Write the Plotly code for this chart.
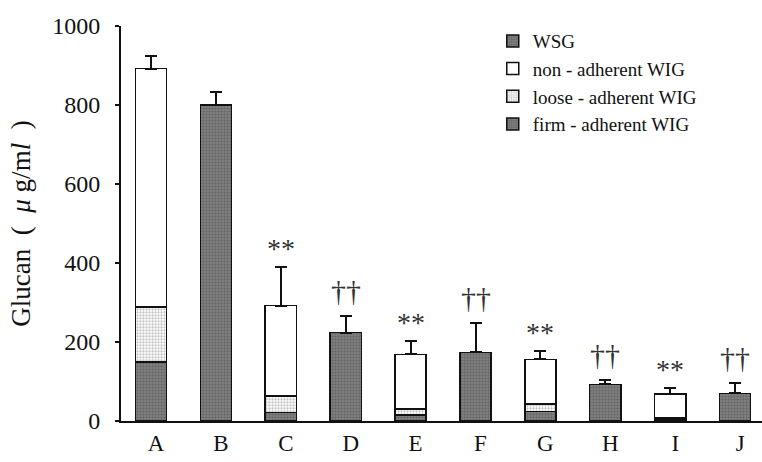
import plotly.graph_objects as go

categories = ["A", "B", "C", "D", "E", "F", "G", "H", "I", "J"]

# WSG (single-component bars)
wsg = [None, 800, None, 224, None, 174, None, 93, None, 70]
wsg_err = [None, 32, None, 42, None, 75, None, 11, None, 27]

# WIG fractions (stacked bars)
firm = [149, None, 22, None, 15, None, 24, None, 4, None]
loose = [140, None, 41, None, 15, None, 19, None, 3, None]
nonadh = [603, None, 229, None, 139, None, 113, None, 62, None]
wig_err = [33, None, 97, None, 34, None, 22, None, 15, None]

marks = ["", "", "**", "††", "**", "††", "**", "††", "**", "††"]

SERIF = "Liberation Serif"

dark_pattern = dict(shape=".", bgcolor="#858585", fgcolor="#4a4a4a", size=3, solidity=0.5, fillmode="overlay")
loose_pattern = dict(shape=".", bgcolor="#ffffff", fgcolor="#8a8a8a", size=3, solidity=0.45, fillmode="overlay")
line = dict(color="#111111", width=1.5)
err_style = dict(type="data", symmetric=False, thickness=2, width=6, color="#111111")

fig = go.Figure()
fig.add_trace(go.Bar(
    x=categories, y=wsg, name="WSG", legendrank=1,
    marker=dict(color="#777777", line=line, pattern=dark_pattern),
    error_y=dict(array=wsg_err, arrayminus=[0] * len(categories), **err_style),
))
fig.add_trace(go.Bar(
    x=categories, y=firm, name="firm - adherent WIG", legendrank=4,
    marker=dict(color="#777777", line=line, pattern=dark_pattern),
))
fig.add_trace(go.Bar(
    x=categories, y=loose, name="loose - adherent WIG", legendrank=3,
    marker=dict(color="#ffffff", line=line, pattern=loose_pattern),
))
fig.add_trace(go.Bar(
    x=categories, y=nonadh, name="non - adherent WIG", legendrank=2,
    marker=dict(color="#ffffff", line=line),
    error_y=dict(array=wig_err, arrayminus=[0] * len(categories), **err_style),
))

# significance marks above the error bars
for i, (c, m) in enumerate(zip(categories, marks)):
    if not m:
        continue
    if wsg[i] is not None:
        top = wsg[i] + wsg_err[i]
    else:
        top = firm[i] + loose[i] + nonadh[i] + wig_err[i]
    is_star = m.startswith("*")
    fig.add_annotation(
        x=c, y=top, text=m, showarrow=False, yanchor="bottom",
        yshift=1 if is_star else 7,
        font=dict(family=SERIF, size=28 if is_star else 30, color="#333333"),
    )

fig.update_layout(
    width=762, height=462,
    margin=dict(l=121, r=0, t=26, b=41),
    paper_bgcolor="white", plot_bgcolor="white",
    barmode="stack", bargap=0.52,
    font=dict(family=SERIF, color="#111111"),
    showlegend=True,
    legend=dict(
        x=0.58, y=1.01, xanchor="left", yanchor="top", traceorder="normal",
        font=dict(family=SERIF, size=19, color="#111111"),
        bgcolor="rgba(0,0,0,0)", tracegroupgap=0, itemwidth=30,
    ),
    xaxis=dict(
        type="category", range=[-0.462, 9.414],
        showline=True, linecolor="#111111", linewidth=2,
        ticks="", showgrid=False, zeroline=False, ticklabelshift=5,
        tickfont=dict(family=SERIF, size=23, color="#111111"),
    ),
    yaxis=dict(
        range=[0, 1000], tickvals=[0, 200, 400, 600, 800, 1000],
        showline=True, linecolor="#111111", linewidth=2,
        ticks="outside", ticklen=4, tickwidth=2, tickcolor="#111111",
        ticklabelstandoff=10,
        showgrid=False, zeroline=False,
        tickfont=dict(family=SERIF, size=24, color="#111111"),
        title=dict(text="Glucan\u2002(\u2002<i>μ</i> g/m<i>l</i>\u2002)",
                   font=dict(family=SERIF, size=27, color="#111111"), standoff=14),
    ),
)

fig.write_html("out.html")
